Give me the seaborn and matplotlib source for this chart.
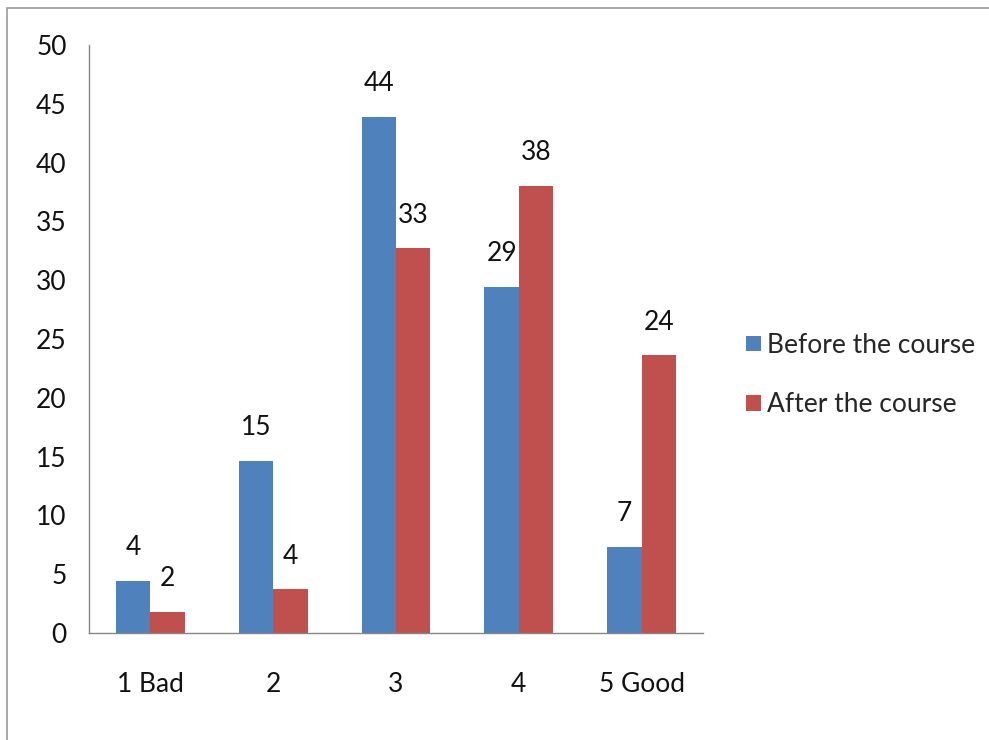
import matplotlib
matplotlib.use("Agg")
import matplotlib.pyplot as plt
from matplotlib.patches import Rectangle
import seaborn as sns
import pandas as pd

# Survey ratings and percentage of respondents per rating
categories = ["1 Bad", "2", "3", "4", "5 Good"]
before_course = [4.4, 14.6, 43.9, 29.4, 7.3]
after_course = [1.8, 3.7, 32.7, 38.0, 23.6]
series_names = ["Before the course", "After the course"]
y_ticks = [0, 5, 10, 15, 20, 25, 30, 35, 40, 45, 50]

df = pd.DataFrame({
    "rating": categories * 2,
    "value": before_course + after_course,
    "series": [series_names[0]] * len(categories) + [series_names[1]] * len(categories),
})

sns.set_theme(style="white")
plt.rcParams["font.family"] = ["Lato", "DejaVu Sans"]

BLUE = "#4F81BD"
RED = "#C0504D"
AXIS = "#868686"
FS = 19

fig = plt.figure(figsize=(9.89, 7.40), dpi=100)
ax = fig.add_axes([89 / 989, 1 - 633 / 740, (703 - 89) / 989, (633 - 45) / 740])

sns.barplot(data=df, x="rating", y="value", hue="series",
            palette=[BLUE, RED], width=0.56, gap=0, saturation=1,
            ax=ax, legend=False)

for container in ax.containers:
    for bar in container:
        bar.set_edgecolor("none")
    ax.bar_label(container, fmt="%.0f", padding=15, fontsize=FS, color="#111111")

ax.set_xlim(-0.5, len(categories) - 0.5)
ax.set_ylim(0, 50)
ax.set_yticks(y_ticks)
ax.set_xlabel("")
ax.set_ylabel("")

# category labels at centres, tick marks at category boundaries
ax.set_xticks(range(len(categories)))
ax.set_xticklabels(categories, fontsize=FS, color="#111111")
ax.tick_params(axis="x", which="major", length=0, pad=28)
ax.set_xticks([i - 0.5 for i in range(len(categories) + 1)], minor=True)
ax.tick_params(axis="x", which="minor", length=8, width=1, color=AXIS, direction="out")
ax.tick_params(axis="y", length=8, width=1, color=AXIS, direction="out",
               labelsize=FS, labelcolor="#111111", pad=8)

for side in ["top", "right"]:
    ax.spines[side].set_visible(False)
for side in ["left", "bottom"]:
    ax.spines[side].set_color(AXIS)
    ax.spines[side].set_linewidth(1)

handles = [Rectangle((0, 0), 1, 1, facecolor=c, edgecolor="none") for c in (BLUE, RED)]
fig.legend(handles, series_names, loc="center left",
           bbox_to_anchor=(746 / 989, 1 - 375 / 740), frameon=False,
           fontsize=FS, handlelength=0.55, handleheight=0.55,
           handletextpad=0.25, labelspacing=1.3, borderaxespad=0, borderpad=0)

# chart frame
fig.patches.append(Rectangle((7 / 989, -0.05), 1.1, 1 - 8 / 740 + 0.05,
                             transform=fig.transFigure, fill=False,
                             edgecolor="#9a9a9a", linewidth=1.2))

fig.savefig("out.png", dpi=100, facecolor="white")
